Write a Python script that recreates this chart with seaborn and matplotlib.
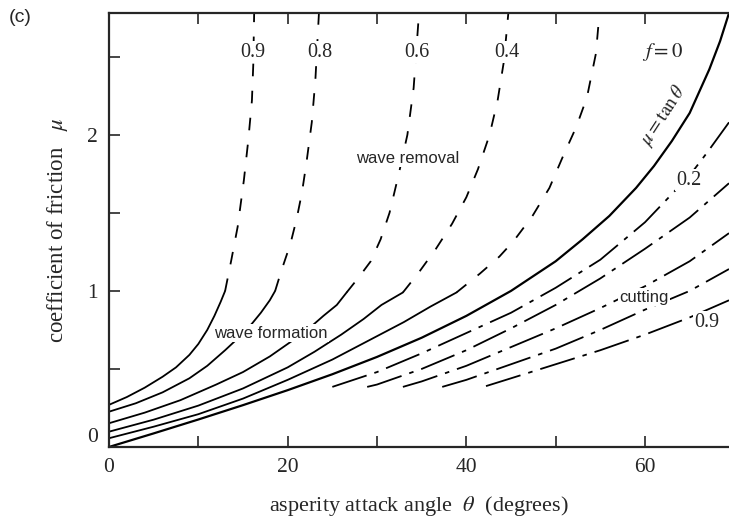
import matplotlib
matplotlib.use("Agg")
import numpy as np
import pandas as pd
import seaborn as sns
import matplotlib.pyplot as plt

# -------------------------------------------------------------------------
# Friction coefficient vs asperity attack angle (wave / cutting model)
# values
# -------------------------------------------------------------------------

# wave formation (solid), one per interface factor f
form_09_theta = [0, 2, 4, 6, 7.5, 9, 10, 11, 11.8, 12.5, 13.0]
form_09_mu = [0.27, 0.32, 0.38, 0.45, 0.51, 0.59, 0.66, 0.75, 0.84, 0.93, 1.0]
form_08_theta = [0, 3, 6, 9, 11, 13, 14.5, 16, 17, 18, 18.6]
form_08_mu = [0.226, 0.28, 0.35, 0.44, 0.52, 0.62, 0.70, 0.79, 0.86, 0.94, 1.0]
form_06_theta = [0, 4, 8, 12, 15, 18, 20, 22, 24, 25.5, 26.6]
form_06_mu = [0.152, 0.22, 0.30, 0.40, 0.48, 0.58, 0.66, 0.74, 0.84, 0.91, 0.99]
form_04_theta = [0, 5, 10, 15, 20, 23, 26, 28.5, 30.5, 32.9]
form_04_mu = [0.098, 0.175, 0.265, 0.375, 0.51, 0.61, 0.72, 0.82, 0.91, 0.99]
form_02_theta = [0, 5, 10, 15, 20, 25, 30, 33, 36, 38.9]
form_02_mu = [0.056, 0.13, 0.21, 0.31, 0.43, 0.56, 0.71, 0.80, 0.90, 0.99]

# wave removal (dashed)
rem_09_theta = [13.0, 13.7, 14.4, 15.1, 15.6, 16.0, 16.15, 16.25]
rem_09_mu = [1.0, 1.2, 1.41, 1.71, 1.97, 2.22, 2.45, 2.78]
rem_08_theta = [18.6, 19.3, 20.3, 21.0, 21.6, 22.1, 22.7, 23.1, 23.5]
rem_08_mu = [1.0, 1.13, 1.3, 1.46, 1.63, 1.82, 2.08, 2.35, 2.78]
rem_06_theta = [26.6, 28.0, 29.3, 30.4, 31.4, 32.4, 33.4, 34.1, 34.7]
rem_06_mu = [0.99, 1.09, 1.19, 1.33, 1.50, 1.74, 2.0, 2.3, 2.78]
rem_04_theta = [32.9, 34.7, 36.6, 38.4, 40.0, 41.3, 42.6, 43.5, 44.2, 44.7]
rem_04_mu = [0.99, 1.12, 1.27, 1.43, 1.60, 1.78, 2.0, 2.22, 2.47, 2.78]
rem_02_theta = [38.9, 41.5, 43.7, 45.3, 47.4, 49.3, 50.8, 52.3, 53.5, 54.5, 54.9]
rem_02_mu = [0.99, 1.11, 1.22, 1.32, 1.48, 1.66, 1.86, 2.05, 2.24, 2.52, 2.78]

# f = 0  ->  mu = tan(theta)
tan_theta = [0, 5, 10, 15, 20, 25, 30, 35, 40, 45, 50, 53, 56, 59, 61, 63,
             65, 67.2, 68.4, 69.4]
tan_mu = [0, 0.087, 0.176, 0.268, 0.364, 0.466, 0.577, 0.70, 0.84, 1.0, 1.19,
          1.33, 1.48, 1.66, 1.80, 1.96, 2.14, 2.42, 2.60, 2.78]

# cutting (chain lines)
cut_02_theta = [25, 30, 35, 40, 45, 50, 55, 60, 65, 67, 69.4]
cut_02_mu = [0.385, 0.48, 0.60, 0.73, 0.86, 1.02, 1.20, 1.44, 1.74, 1.89, 2.08]
cut_04_theta = [28.9, 30, 35, 40, 45, 50, 55, 60, 65, 69.4]
cut_04_mu = [0.385, 0.40, 0.50, 0.62, 0.76, 0.91, 1.08, 1.27, 1.47, 1.69]
cut_06_theta = [32.9, 35, 40, 45, 50, 55, 60, 65, 69.4]
cut_06_mu = [0.385, 0.42, 0.52, 0.64, 0.76, 0.89, 1.03, 1.19, 1.37]
cut_08_theta = [37.3, 40, 45, 50, 55, 60, 65, 69.4]
cut_08_mu = [0.385, 0.43, 0.53, 0.63, 0.75, 0.88, 1.00, 1.14]
cut_09_theta = [42.2, 45, 50, 55, 60, 65, 69.4]
cut_09_mu = [0.39, 0.44, 0.53, 0.62, 0.72, 0.83, 0.94]

# curve labels along the top
top_labels = ['0.9', '0.8', '0.6', '0.4']
top_label_theta = [16.1, 23.6, 34.5, 44.5]

sns.set_theme(style='ticks')
plt.rcParams['font.family'] = ['Liberation Serif', 'DejaVu Serif']
plt.rcParams['mathtext.fontset'] = 'stix'

fig, ax = plt.subplots(figsize=(7.29, 5.24), dpi=100)
fig.subplots_adjust(left=0.1495, right=1.0, bottom=0.147, top=0.975)

SOLID = '-'
DASH = (0, (7, 8))
CHAIN = (0, (20, 4.5, 2.5, 4.5))


def draw(theta, mu, ls, lw=1.3):
    sns.lineplot(x=theta, y=mu, ax=ax, color='black', lw=lw, linestyle=ls,
                 sort=False, estimator=None)


# wave formation
for th, m in [(form_09_theta, form_09_mu), (form_08_theta, form_08_mu),
              (form_06_theta, form_06_mu), (form_04_theta, form_04_mu),
              (form_02_theta, form_02_mu)]:
    draw(th, m, SOLID)

# wave removal
for th, m in [(rem_09_theta, rem_09_mu), (rem_08_theta, rem_08_mu),
              (rem_06_theta, rem_06_mu), (rem_04_theta, rem_04_mu),
              (rem_02_theta, rem_02_mu)]:
    draw(th, m, DASH)

# cutting
for th, m in [(cut_02_theta, cut_02_mu), (cut_04_theta, cut_04_mu),
              (cut_06_theta, cut_06_mu), (cut_08_theta, cut_08_mu),
              (cut_09_theta, cut_09_mu)]:
    draw(th, m, CHAIN)

draw(tan_theta, tan_mu, SOLID, lw=1.6)

# axes styling
ax.set_xlim(0, 69.4)
ax.set_ylim(0, 2.78)
ax.set_xticks([0, 20, 40, 60])
ax.set_xticks([10, 30, 50], minor=True)
ax.set_yticks([0, 1, 2])
ax.set_yticks([0.5, 1.5, 2.5], minor=True)
ax.tick_params(which='both', direction='in', length=8, width=1.2,
               top=True, right=False, labelsize=15.5)
ax.tick_params(axis='x', pad=8)
ax.tick_params(axis='y', pad=8)
ax.get_yticklabels()[0].set_verticalalignment('bottom')
for side in ['left', 'bottom', 'top']:
    ax.spines[side].set_linewidth(1.6)
ax.spines['right'].set_visible(False)

ax.set_xlabel('asperity attack angle  $\\theta$  (degrees)', fontsize=16, labelpad=12)
ax.set_ylabel('coefficient of friction   $\\mu$', fontsize=16.5, labelpad=12)

# annotations
white = dict(facecolor='white', edgecolor='none', pad=1.0)
for lab, th in zip(top_labels, top_label_theta):
    ax.text(th, 2.53, lab, fontsize=14.5, ha='center', va='center', bbox=white)
ax.text(62.0, 2.53, '$f = 0$', fontsize=15, ha='center', va='center')
ax.text(64.9, 1.71, '0.2', fontsize=14.5, ha='center', va='center', bbox=white)
ax.text(66.9, 0.80, '0.9', fontsize=14.5, ha='center', va='center', bbox=white)
ax.text(62.0, 2.12, '$\\mu = \\tan\\theta$', fontsize=14, ha='center', va='center',
        rotation=57)

sans = ['Liberation Sans', 'DejaVu Sans']
ax.text(18.1, 0.73, 'wave formation', family=sans, fontsize=12,
        ha='center', va='center', bbox=white)
ax.text(33.4, 1.85, 'wave removal', family=sans, fontsize=12,
        ha='center', va='center', bbox=white)
ax.text(59.9, 0.96, 'cutting', family=sans, fontsize=12,
        ha='center', va='center', bbox=white)

fig.text(20 / 729, 1 - 18 / 524, '(c)', family=sans, fontsize=14,
         ha='center', va='center')

fig.savefig('out.png', dpi=100)
